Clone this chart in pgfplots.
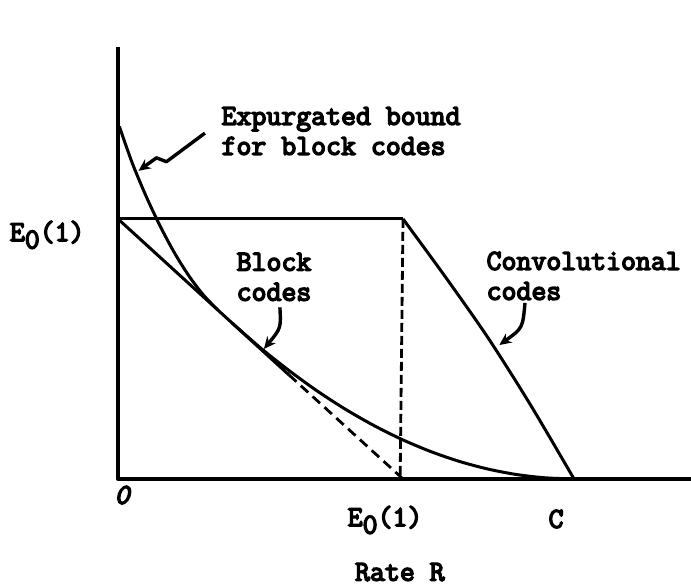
\documentclass[border=0pt]{standalone}
\usepackage{fontspec}
\newfontfamily\typew{Latin Modern Mono}[FakeBold=5, ItalicFeatures={FakeBold=5}]
\usepackage{pgfplots}
\pgfplotsset{compat=1.18}
\usetikzlibrary{arrows.meta}

\newcommand{\lbl}{\typew\fontsize{29}{30}\selectfont}
\newcommand{\Ezero}{E\raisebox{-0.6ex}{0}(1)}

\begin{document}
\begin{tikzpicture}
\begin{axis}[
  x=285pt, y=260pt,
  xmin=0, xmax=2.0105, ymin=0, ymax=1.66,
  hide axis, clip=false,
  cycle list={{black, solid, mark=none}},
  every axis plot/.append style={black, line width=3pt, line join=round},
]
% frame of the page
\coordinate (tl) at (axis cs:-0.414,1.842);
\coordinate (br) at (axis cs:2.0105,-0.4115);

% axes
\addplot[line width=4pt] coordinates {(0,1.66) (0,0) (2.0105,0)};

% expurgated bound for block codes
\addplot[smooth] coordinates {
  (0.005,1.355) (0.05,1.215) (0.10,1.084) (0.15,0.968)
  (0.20,0.866) (0.25,0.779) (0.30,0.707) (0.35,0.650)};

% block codes: straight part E0(1) - R
\addplot[solid] coordinates {(0,1) (0.6,0.4)};
\addplot[line width=2.8pt, dash pattern=on 10pt off 6pt] coordinates {(0.6,0.4) (1,0)};

% block codes: curved part down to capacity
\addplot[smooth] coordinates {
  (0.4,0.600) (0.5,0.504) (0.6,0.417) (0.7,0.3375) (0.8,0.2667)
  (0.9,0.2042) (1.0,0.150) (1.1,0.1042) (1.2,0.0667) (1.3,0.0375)
  (1.4,0.0167) (1.5,0.0042) (1.6,0)};

% convolutional codes
\addplot[solid] coordinates {(0,1) (1,1)};
\addplot[smooth] coordinates {(1,1) (1.15,0.775) (1.3,0.54) (1.45,0.28) (1.6,0)};

% R = E0(1)
\addplot[line width=2.8pt, dash pattern=on 9pt off 4pt] coordinates {(1,1) (0.99,0)};

% labels
\node[anchor=base east, font=\lbl] at (axis cs:-0.105,0.915) {\Ezero};
\node[font=\lbl\itshape] at (axis cs:0.014,-0.062) {0};
\node[font=\lbl] at (axis cs:0.937,-0.158) {\Ezero};
\node[font=\lbl] at (axis cs:1.537,-0.154) {C};
\node[font=\lbl] at (axis cs:0.989,-0.358) {Rate R};

\node[anchor=west, align=left, font=\lbl] at (axis cs:0.351,1.338)
  {Expurgated bound\\for block codes};
\node[anchor=west, align=left, font=\lbl] at (axis cs:0.404,0.777)
  {Block\\codes};
\node[anchor=west, align=left, font=\lbl] at (axis cs:1.281,0.781)
  {Convolutional\\codes};

% pointers
\draw[line width=3.4pt, -{Stealth[length=12pt,width=11pt]}, line join=round]
  (axis cs:0.305,1.33) -- (axis cs:0.17,1.22) -- (axis cs:0.135,1.235) -- (axis cs:0.072,1.185);
\draw[line width=3.4pt, -{Stealth[length=12pt,width=11pt]}]
  (axis cs:0.568,0.66) .. controls (axis cs:0.572,0.58) .. (axis cs:0.512,0.50);
\draw[line width=3.4pt, -{Stealth[length=12pt,width=11pt]}]
  (axis cs:1.428,0.677) .. controls (axis cs:1.42,0.58) .. (axis cs:1.338,0.515);
\end{axis}
\pgfresetboundingbox
\useasboundingbox (tl) rectangle (br);
\end{tikzpicture}
\end{document}
